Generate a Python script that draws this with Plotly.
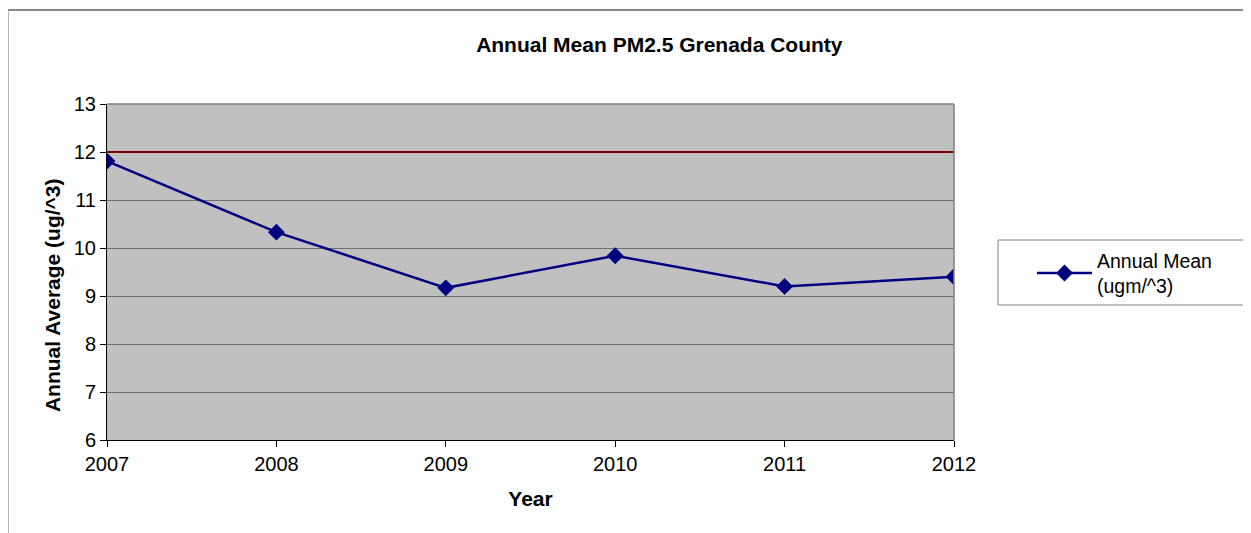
import plotly.graph_objects as go

# Data
years = [2007, 2008, 2009, 2010, 2011, 2012]
annual_mean = [11.81, 10.33, 9.17, 9.84, 9.20, 9.40]
standard = [12, 12, 12, 12, 12, 12]

y_ticks = [6, 7, 8, 9, 10, 11, 12, 13]

FONT = "Liberation Sans, Arial, sans-serif"

fig = go.Figure()

# Standard line (not in legend)
fig.add_trace(go.Scatter(x=years, y=standard, mode="lines", showlegend=False,
                         line=dict(color="#800000", width=2), hoverinfo="skip"))

# Annual mean series
fig.add_trace(go.Scatter(x=years, y=annual_mean, mode="lines+markers",
                         name="Annual Mean<br>(ugm/^3)",
                         line=dict(color="#000080", width=2.5),
                         marker=dict(symbol="diamond", size=13, color="#000080")))

fig.update_xaxes(range=[2007, 2012], tickvals=years, ticks="outside", ticklen=6,
                 tickcolor="black", showline=True, linecolor="black", linewidth=1,
                 showgrid=False, zeroline=False, title_text="<b>Year</b>",
                 title_font=dict(size=21, color="black"), title_standoff=17,
                 tickfont=dict(size=20, color="black"))
fig.update_yaxes(range=[6, 13], tickvals=y_ticks, ticks="outside", ticklen=6,
                 tickcolor="black", showline=True, linecolor="black", linewidth=1,
                 showgrid=True, gridcolor="#707070", gridwidth=1, zeroline=False,
                 tickfont=dict(size=20, color="black"))

# y title sits a bit below the plot centre, so use an annotation
fig.add_annotation(text="<b>Annual Average (ug/^3)</b>", textangle=-90,
                   xref="paper", yref="paper", x=-0.0649, y=0.4315,
                   xanchor="center", yanchor="middle", showarrow=False,
                   font=dict(size=21, color="black"))

# page body has an 8px margin, so the figure is 8px smaller than the window
fig.update_layout(
    width=1243, height=525,
    font=dict(family=FONT, color="black"),
    paper_bgcolor="white", plot_bgcolor="#c0c0c0",
    margin=dict(l=99, r=297, t=96, b=93),
    title=dict(text="<b>Annual Mean PM2.5 Grenada County</b>", x=0.524, xanchor="center",
               y=0.93, yanchor="middle", font=dict(size=21, color="black")),
    legend=dict(x=1.0921, y=0.592, xanchor="left", yanchor="top",
                borderwidth=0, bgcolor="rgba(0,0,0,0)",
                font=dict(size=19.5, color="black"), itemwidth=55),
    shapes=[
        # gray plot-area border top/right
        dict(type="line", xref="paper", yref="paper", x0=0, x1=1, y0=1, y1=1,
             line=dict(color="#808080", width=1.5)),
        dict(type="line", xref="paper", yref="paper", x0=1, x1=1, y0=0, y1=1,
             line=dict(color="#808080", width=1.5)),
        # legend box
        dict(type="rect", xref="paper", yref="paper", x0=1.052, x1=1.3424, y0=0.4018, y1=0.5952,
             line=dict(color="#808080", width=1), fillcolor="white", layer="below"),
        # outer chart frame (top and left visible)
        dict(type="line", xref="paper", yref="paper", x0=-0.1169, x1=1.4, y0=1.2798, y1=1.2798,
             line=dict(color="#606060", width=1.5)),
        dict(type="line", xref="paper", yref="paper", x0=-0.1169, x1=-0.1169, y0=-0.3, y1=1.2798,
             line=dict(color="#a0a0a0", width=1.5)),
    ],
)

fig.write_html("out.html")
